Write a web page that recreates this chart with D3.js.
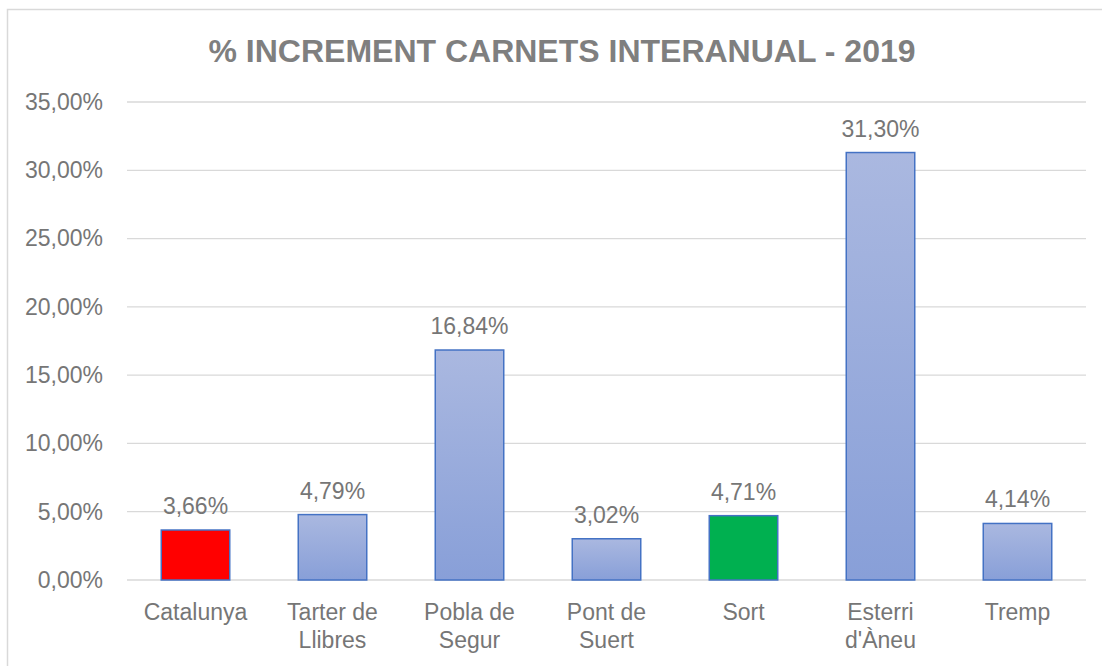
<!DOCTYPE html>
<html>
<head>
    <meta charset="utf-8" />
    <title>% Increment carnets interanual - 2019</title>
    <script src="https://d3js.org/d3.v7.min.js"></script>
    <style>
        body { margin: 0; background: #fff; }
        text { font-family: "Liberation Sans", Arial, sans-serif; }
    </style>
</head>
<body>
<script type="text/javascript">
    var categories = ["Catalunya", "Tarter de Llibres", "Pobla de Segur", "Pont de Suert", "Sort", "Esterri d'Àneu", "Tremp"];
    var categoryLines = [["Catalunya"], ["Tarter de", "Llibres"], ["Pobla de", "Segur"], ["Pont de", "Suert"], ["Sort"], ["Esterri", "d'Àneu"], ["Tremp"]];
    var values = [3.66, 4.79, 16.84, 3.02, 4.71, 31.30, 4.14];
    var fills = ["#ff0000", "grad", "grad", "grad", "#00b050", "grad", "grad"];
    var yTicks = [0, 5, 10, 15, 20, 25, 30, 35];

    var w = 1102, h = 666;
    var margin = {top: 102, right: 16, bottom: 86, left: 127};

    var svg = d3.select("body").append("svg")
        .attr("width", w)
        .attr("height", h);

    var defs = svg.append("defs");
    var grad = defs.append("linearGradient")
        .attr("id", "barGrad")
        .attr("x1", 0).attr("y1", 0).attr("x2", 0).attr("y2", 1);
    grad.append("stop").attr("offset", "0%").attr("stop-color", "#aab8e0");
    grad.append("stop").attr("offset", "100%").attr("stop-color", "#889fd8");

    // chart frame
    svg.append("rect")
        .attr("x", 7.5).attr("y", 9.5)
        .attr("width", w).attr("height", h)
        .attr("fill", "none")
        .attr("stroke", "#d9d9d9")
        .attr("stroke-width", 1.5);

    var x = d3.scaleBand()
        .domain(categories)
        .range([margin.left, w - margin.right])
        .paddingInner(0.5)
        .paddingOuter(0.25);

    var y = d3.scaleLinear()
        .domain([0, 35])
        .range([h - margin.bottom, margin.top]);

    var fmt = function(v) { return d3.format(".2f")(v).replace(".", ",") + "%"; };

    // gridlines
    svg.append("g").selectAll("line")
        .data(yTicks)
        .enter().append("line")
        .attr("x1", margin.left)
        .attr("x2", w - margin.right)
        .attr("y1", function(d) { return y(d); })
        .attr("y2", function(d) { return y(d); })
        .attr("stroke", "#d9d9d9")
        .attr("stroke-width", 1.3);

    // y axis labels
    var yAxis = d3.axisLeft(y).tickValues(yTicks).tickFormat(fmt).tickSize(0).tickPadding(24);
    var gy = svg.append("g")
        .attr("transform", "translate(" + margin.left + ",0)")
        .call(yAxis);
    gy.select(".domain").remove();
    gy.selectAll("text")
        .attr("fill", "#767676")
        .style("font-size", "23px");

    // bars
    svg.append("g").selectAll("rect")
        .data(values)
        .enter().append("rect")
        .attr("x", function(d, i) { return x(categories[i]); })
        .attr("y", function(d) { return y(d); })
        .attr("width", x.bandwidth())
        .attr("height", function(d) { return y(0) - y(d); })
        .attr("fill", function(d, i) { return fills[i] === "grad" ? "url(#barGrad)" : fills[i]; })
        .attr("stroke", "#4472c4")
        .attr("stroke-width", 1.5);

    // data labels
    svg.append("g").selectAll("text")
        .data(values)
        .enter().append("text")
        .attr("x", function(d, i) { return x(categories[i]) + x.bandwidth() / 2; })
        .attr("y", function(d) { return y(d) - 16; })
        .attr("text-anchor", "middle")
        .attr("fill", "#767676")
        .style("font-size", "23px")
        .text(fmt);

    // category labels
    var cat = svg.append("g").selectAll("text")
        .data(categoryLines)
        .enter().append("text")
        .attr("x", function(d, i) { return x(categories[i]) + x.bandwidth() / 2; })
        .attr("y", 620)
        .attr("text-anchor", "middle")
        .attr("fill", "#767676")
        .style("font-size", "23px");
    cat.selectAll("tspan")
        .data(function(d) { return d; })
        .enter().append("tspan")
        .attr("x", function() { return d3.select(this.parentNode).attr("x"); })
        .attr("dy", function(d, i) { return i === 0 ? 0 : 28; })
        .text(function(d) { return d; });

    // title
    svg.append("text")
        .attr("x", 562)
        .attr("y", 62)
        .attr("text-anchor", "middle")
        .attr("fill", "#7f7f7f")
        .style("font-size", "32px")
        .style("font-weight", "bold")
        .text("% INCREMENT CARNETS INTERANUAL - 2019");
</script>
</body>
</html>
